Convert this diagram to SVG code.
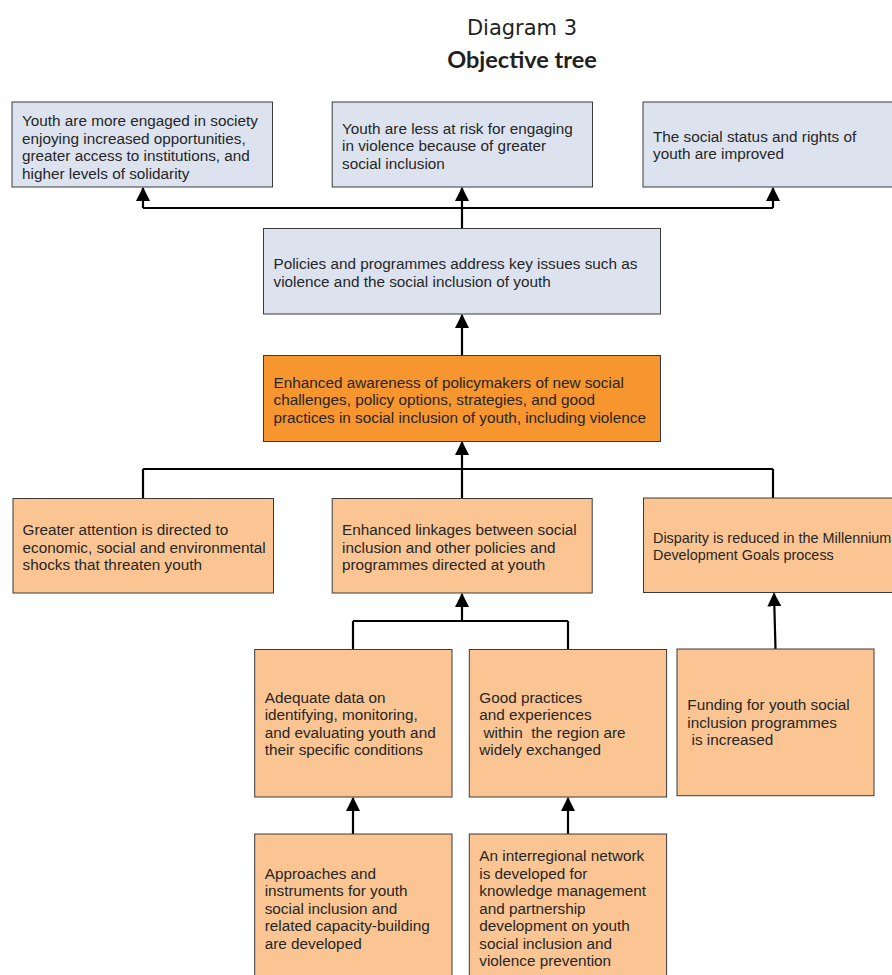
<svg xmlns="http://www.w3.org/2000/svg" width="892" height="975" viewBox="0 0 892 975">
<style>
  .bg { fill: #ffffff; }
  .blue { fill: #dce3ef; stroke: #3a3a3a; stroke-width: 1; }
  .org { fill: #f7952f; stroke: #3a3a3a; stroke-width: 1; }
  .lt { fill: #fbc593; stroke: #3a3a3a; stroke-width: 1; }
  .t { font-family: "Liberation Sans", Arial, sans-serif; font-size: 15.3px; fill: #262626; }
  .title { font-family: "DejaVu Sans", sans-serif; font-size: 21px; fill: #231f20; text-anchor: middle; }
  .title2 { font-family: Lato, "DejaVu Sans", sans-serif; font-size: 23.5px; font-weight: bold; fill: #231f20; text-anchor: middle; }
  .conn { fill: none; stroke: #000000; stroke-width: 2.2; }
</style>
<defs>
  <marker id="arr" markerUnits="userSpaceOnUse" markerWidth="14" markerHeight="14" viewBox="0 0 13 13" refX="12" refY="6.5" orient="auto">
    <path d="M0,0 L13,6.5 L0,13 z" fill="#000000"/>
  </marker>
</defs>
<rect class="bg" x="0" y="0" width="892" height="975"/>

<g id="title">
  <text class="title" x="522" y="35">Diagram 3</text>
  <text class="title2" x="522" y="68">Objective tree</text>
</g>

<g id="connectors">
  <path class="conn" d="M143,208 H773"/>
  <path class="conn" d="M143,208 V188" marker-end="url(#arr)"/>
  <path class="conn" d="M773,208 V188" marker-end="url(#arr)"/>
  <path class="conn" d="M462,228.5 V188" marker-end="url(#arr)"/>
  <path class="conn" d="M462,355.5 V315" marker-end="url(#arr)"/>
  <path class="conn" d="M143,469 H773"/>
  <path class="conn" d="M143,469 V498.5"/>
  <path class="conn" d="M773,469 V498"/>
  <path class="conn" d="M462,498.5 V442" marker-end="url(#arr)"/>
  <path class="conn" d="M353,621 H568"/>
  <path class="conn" d="M353,621 V649.5"/>
  <path class="conn" d="M568,621 V649.5"/>
  <path class="conn" d="M462,621 V594" marker-end="url(#arr)"/>
  <path class="conn" d="M775.5,649 L774,593.5" marker-end="url(#arr)"/>
  <path class="conn" d="M353,834 V798" marker-end="url(#arr)"/>
  <path class="conn" d="M568,834 V798" marker-end="url(#arr)"/>
</g>

<g id="n1">
  <rect class="blue" x="12" y="102" width="260.5" height="85"/>
  <text class="t" x="22" y="126">Youth are more engaged in society</text>
  <text class="t" x="22" y="143.5">enjoying increased opportunities,</text>
  <text class="t" x="22" y="161">greater access to institutions, and</text>
  <text class="t" x="22" y="178.5">higher levels of solidarity</text>
</g>
<g id="n2">
  <rect class="blue" x="332.2" y="102" width="260.3" height="85"/>
  <text class="t" x="342" y="133.5">Youth are less at risk for engaging</text>
  <text class="t" x="342" y="151">in violence because of greater</text>
  <text class="t" x="342" y="168.5">social inclusion</text>
</g>
<g id="n3">
  <rect class="blue" x="643" y="102" width="260" height="85"/>
  <text class="t" x="653" y="141.5">The social status and rights of</text>
  <text class="t" x="653" y="159">youth are improved</text>
</g>
<g id="n4">
  <rect class="blue" x="263.5" y="228.5" width="397" height="85.5"/>
  <text class="t" x="273.5" y="269">Policies and programmes address key issues such as</text>
  <text class="t" x="273.5" y="286.5">violence and the social inclusion of youth</text>
</g>
<g id="n5">
  <rect class="org" x="263.5" y="355.5" width="397" height="86"/>
  <text class="t" x="273.5" y="387.5">Enhanced awareness of policymakers of new social</text>
  <text class="t" x="273.5" y="405">challenges, policy options, strategies, and good</text>
  <text class="t" x="273.5" y="422.5">practices in social inclusion of youth, including violence</text>
</g>
<g id="n6">
  <rect class="lt" x="13" y="498.5" width="260.5" height="94.5"/>
  <text class="t" x="22.5" y="535">Greater attention is directed to</text>
  <text class="t" x="22.5" y="552.5">economic, social and environmental</text>
  <text class="t" x="22.5" y="570">shocks that threaten youth</text>
</g>
<g id="n7">
  <rect class="lt" x="332.2" y="498.5" width="260" height="94.5"/>
  <text class="t" x="342" y="535">Enhanced linkages between social</text>
  <text class="t" x="342" y="552.5">inclusion and other policies and</text>
  <text class="t" x="342" y="570">programmes directed at youth</text>
</g>
<g id="n8">
  <rect class="lt" x="643.5" y="498" width="260" height="94.5"/>
  <text class="t" x="653" y="542.5" style="font-size:14.4px">Disparity is reduced in the Millennium</text>
  <text class="t" x="653" y="560" style="font-size:14.4px">Development Goals process</text>
</g>
<g id="n9">
  <rect class="lt" x="254.7" y="649.5" width="197.3" height="147.5"/>
  <text class="t" x="264.7" y="702.5">Adequate data on</text>
  <text class="t" x="264.7" y="720">identifying, monitoring,</text>
  <text class="t" x="264.7" y="737.5">and evaluating youth and</text>
  <text class="t" x="264.7" y="755">their specific conditions</text>
</g>
<g id="n10">
  <rect class="lt" x="469.3" y="649.5" width="197.3" height="147.5"/>
  <text class="t" x="479.3" y="702.5">Good practices</text>
  <text class="t" x="479.3" y="720">and experiences</text>
  <text class="t" x="479.3" y="737.5" xml:space="preserve" style="white-space:pre"> within  the region are</text>
  <text class="t" x="479.3" y="755">widely exchanged</text>
</g>
<g id="n11">
  <rect class="lt" x="677" y="649" width="197" height="146.7"/>
  <text class="t" x="687.3" y="710">Funding for youth social</text>
  <text class="t" x="687.3" y="727.5">inclusion programmes</text>
  <text class="t" x="687.3" y="745" xml:space="preserve" style="white-space:pre"> is increased</text>
</g>
<g id="n12">
  <rect class="lt" x="254.7" y="834" width="197.3" height="160"/>
  <text class="t" x="264.7" y="878.5">Approaches and</text>
  <text class="t" x="264.7" y="896">instruments for youth</text>
  <text class="t" x="264.7" y="913.5">social inclusion and</text>
  <text class="t" x="264.7" y="931">related capacity-building</text>
  <text class="t" x="264.7" y="948.5">are developed</text>
</g>
<g id="n13">
  <rect class="lt" x="469.3" y="834" width="197.3" height="160"/>
  <text class="t" x="479.3" y="861">An interregional network</text>
  <text class="t" x="479.3" y="878.5">is developed for</text>
  <text class="t" x="479.3" y="896">knowledge management</text>
  <text class="t" x="479.3" y="913.5">and partnership</text>
  <text class="t" x="479.3" y="931">development on youth</text>
  <text class="t" x="479.3" y="948.5">social inclusion and</text>
  <text class="t" x="479.3" y="966">violence prevention</text>
</g>
</svg>
